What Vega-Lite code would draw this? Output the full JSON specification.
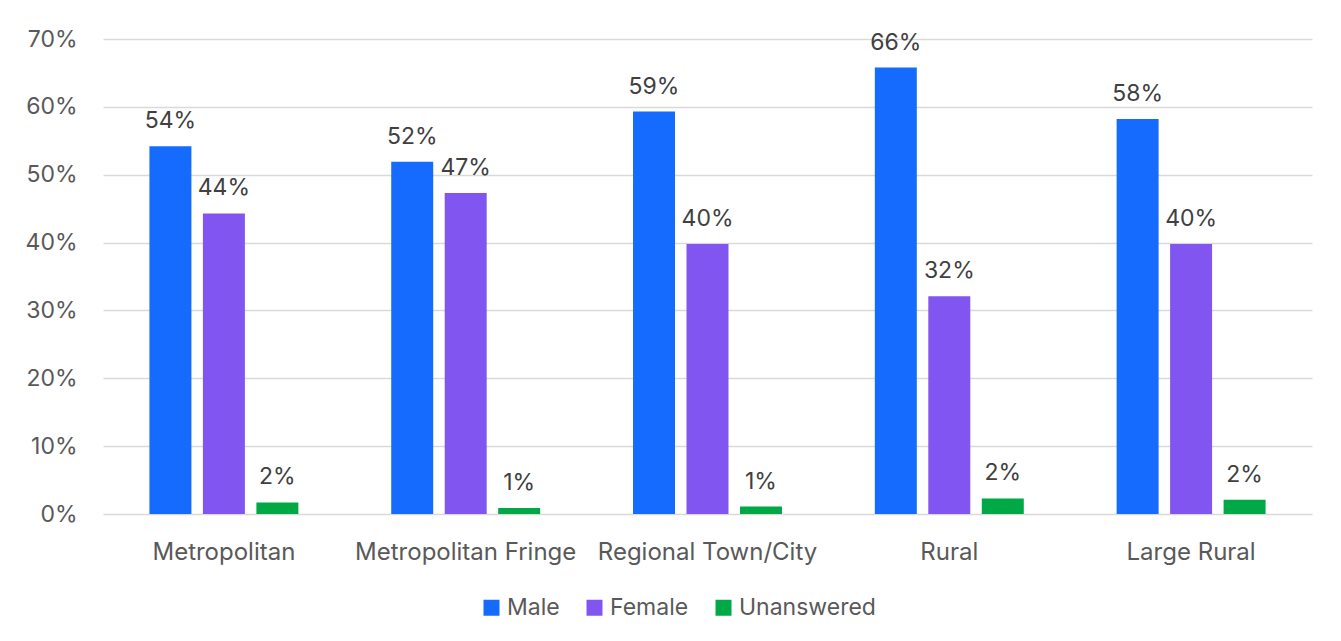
{
  "$schema": "https://vega.github.io/schema/vega-lite/v6.json",
  "autosize": {"type": "none"},
  "width": 1209,
  "height": 475,
  "padding": {"left": 103, "top": 39, "right": 29, "bottom": 127},
  "background": "white",
  "config": {
    "font": "Inter",
    "view": {"stroke": null},
    "axis": {"labelFont": "Inter", "labelColor": "#595959", "labelFontSize": 23},
    "legend": {"labelFont": "Inter", "labelColor": "#595959", "labelFontSize": 23}
  },
  "data": {
    "values": [
      {"area": "Metropolitan", "gender": "Male", "value": 0.542},
      {"area": "Metropolitan", "gender": "Female", "value": 0.443},
      {"area": "Metropolitan", "gender": "Unanswered", "value": 0.017},
      {"area": "Metropolitan Fringe", "gender": "Male", "value": 0.519},
      {"area": "Metropolitan Fringe", "gender": "Female", "value": 0.473},
      {"area": "Metropolitan Fringe", "gender": "Unanswered", "value": 0.009},
      {"area": "Regional Town/City", "gender": "Male", "value": 0.593},
      {"area": "Regional Town/City", "gender": "Female", "value": 0.398},
      {"area": "Regional Town/City", "gender": "Unanswered", "value": 0.011},
      {"area": "Rural", "gender": "Male", "value": 0.658},
      {"area": "Rural", "gender": "Female", "value": 0.321},
      {"area": "Rural", "gender": "Unanswered", "value": 0.023},
      {"area": "Large Rural", "gender": "Male", "value": 0.582},
      {"area": "Large Rural", "gender": "Female", "value": 0.398},
      {"area": "Large Rural", "gender": "Unanswered", "value": 0.021}
    ]
  },
  "encoding": {
    "x": {
      "field": "area", "type": "nominal", "sort": null,
      "scale": {"paddingInner": 0.384, "paddingOuter": 0.192},
      "axis": {"title": null, "labelAngle": 0, "ticks": false, "domain": false, "labelPadding": 26, "labelLimit": 0, "labelFontSize": 24}
    },
    "xOffset": {
      "field": "gender", "type": "nominal",
      "sort": ["Male", "Female", "Unanswered"],
      "scale": {"paddingInner": 0.215, "paddingOuter": 0}
    },
    "y": {
      "field": "value", "type": "quantitative",
      "scale": {"domain": [0, 0.7], "nice": false},
      "axis": {
        "title": null, "format": ".0%", "values": [0, 0.1, 0.2, 0.3, 0.4, 0.5, 0.6, 0.7],
        "labelOverlap": false, "ticks": false, "domain": false, "labelPadding": 26,
        "gridColor": "#D9D9D9", "gridWidth": 1.5
      }
    }
  },
  "layer": [
    {
      "mark": {"type": "bar"},
      "encoding": {
        "color": {
          "field": "gender", "type": "nominal",
          "sort": ["Male", "Female", "Unanswered"],
          "scale": {"domain": ["Male", "Female", "Unanswered"], "range": ["#156BFD", "#8156F0", "#00A846"]},
          "legend": {
            "title": null, "orient": "none", "direction": "horizontal",
            "legendX": 377, "legendY": 557,
            "symbolType": "square", "symbolSize": 256, "symbolStrokeWidth": 0,
            "columnPadding": 23, "labelOffset": 4
          }
        }
      }
    },
    {
      "mark": {"type": "text", "baseline": "alphabetic", "dy": -18, "fontSize": 23, "color": "#404040", "font": "Inter"},
      "encoding": {
        "text": {"field": "value", "type": "quantitative", "format": ".0%"}
      }
    }
  ]
}
